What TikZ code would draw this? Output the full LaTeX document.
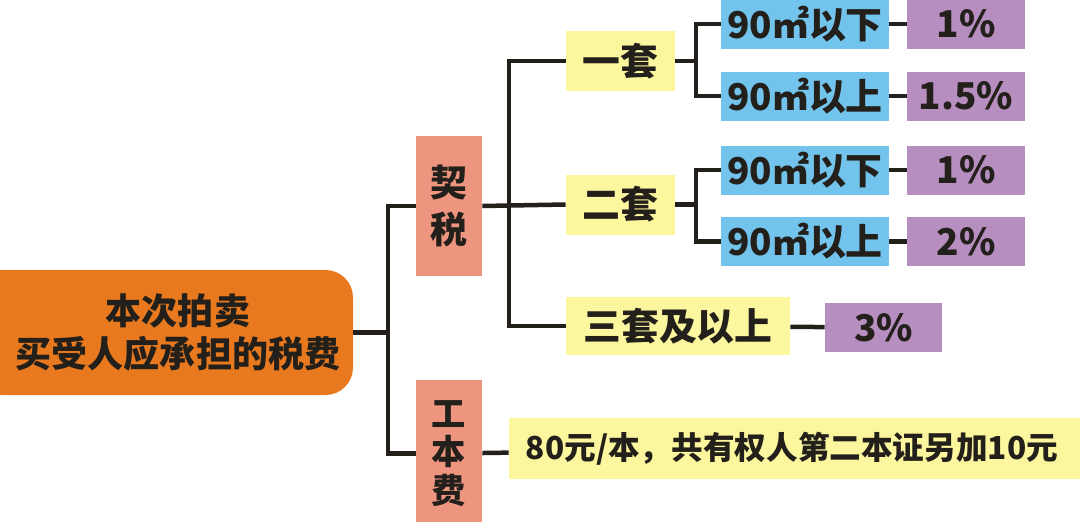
\documentclass[tikz,border=0pt]{standalone}
\usepackage{fontspec}
\setmainfont{Noto Sans CJK SC}
\usetikzlibrary{calc}

\definecolor{rootorange}{HTML}{E8791E}
\definecolor{salmon}{HTML}{EE9580}
\definecolor{paleyellow}{HTML}{FCF79E}
\definecolor{skyblue}{HTML}{72C4EC}
\definecolor{lilac}{HTML}{B68EC0}
\definecolor{ink}{HTML}{231F1A}

\begin{document}
\begin{tikzpicture}[
    font=\bfseries,
    root/.style={
        fill=rootorange, rounded corners=0.55cm, minimum width=7.56cm, minimum height=2.5cm,
        align=center, text=ink, font=\fontsize{20.5}{24.5}\selectfont\bfseries
    },
    taxbox/.style={
        fill=salmon, minimum width=1.32cm, align=center, text=ink
    },
    setbox/.style={
        fill=paleyellow, minimum height=1.2cm, text=ink, font=\fontsize{21.5}{25}\selectfont\bfseries
    },
    areabox/.style={
        fill=skyblue, minimum width=3.32cm, minimum height=0.98cm, text=ink,
        font=\fontsize{21}{24}\selectfont\bfseries
    },
    ratebox/.style={
        fill=lilac, minimum width=2.36cm, minimum height=0.98cm, text=ink,
        font=\fontsize{21}{24}\selectfont\bfseries
    },
    link/.style={
        draw=ink, line width=0.09cm
    }
]

    % Canvas
    \useasboundingbox (0,0) rectangle (21.6,-10.42);
    \clip (0,0) rectangle (21.6,-10.42);

    % Root
    \node[root] (root) at (3.28,-6.65) {\hspace*{0.56cm}本次拍卖\\\hspace*{0.56cm}买受人应承担的税费};

    % Second level
    \node[taxbox, minimum height=2.8cm, font=\fontsize{21}{27}\selectfont\bfseries] (qishui) at (8.98,-4.12) {契\\税};
    \node[taxbox, minimum height=2.94cm, font=\fontsize{19.5}{22}\selectfont\bfseries] (gongben) at (8.98,-9.07) {工\\本\\费};

    % Contract tax branches
    \node[setbox, minimum width=2.18cm] (yitao) at (12.41,-1.22) {一套};
    \node[setbox, minimum width=2.18cm] (ertao) at (12.41,-4.09) {二套};
    \node[setbox, minimum width=4.48cm, minimum height=1.16cm] (santao) at (13.56,-6.52) {三套及以上};

    % Area classes
    \node[areabox] (area1) at (16.10,-0.48) {90㎡以下};
    \node[areabox] (area2) at (16.10,-1.92) {90㎡以上};
    \node[areabox] (area3) at (16.10,-3.40) {90㎡以下};
    \node[areabox] (area4) at (16.10,-4.83) {90㎡以上};

    % Rates
    \node[ratebox] (rate1) at (19.32,-0.48) {1\%};
    \node[ratebox] (rate2) at (19.32,-1.92) {1.5\%};
    \node[ratebox] (rate3) at (19.32,-3.40) {1\%};
    \node[ratebox] (rate4) at (19.32,-4.83) {2\%};
    \node[ratebox, minimum width=2.34cm] (rate5) at (17.67,-6.55) {3\%};

    % Book fee
    \node[setbox, minimum width=11.52cm, minimum height=1.22cm, font=\fontsize{18}{22}\selectfont\bfseries] (fee) at (15.94,-8.97) {\hspace*{-0.2cm}80元/本，共有权人第二本证另加10元\hfill};

    % Trunk positions
    \coordinate (t0) at (7.76,0);
    \coordinate (t1) at (10.18,0);
    \coordinate (t2) at (13.92,0);

    % Connections
    \draw[link] (root.east) -- (root.east -| t0);
    \draw[link] (qishui.west) -- (qishui.west -| t0) |- (gongben.west);
    \draw[link] (qishui.east) -- (ertao.west);
    \draw[link] (yitao.west) -- (yitao.west -| t1) |- (santao.west);
    \draw[link] (yitao.east) -- (yitao.east -| t2);
    \draw[link] (area1.west) -- (area1.west -| t2) |- (area2.west);
    \draw[link] (ertao.east) -- (ertao.east -| t2);
    \draw[link] (area3.west) -- (area3.west -| t2) |- (area4.west);
    \draw[link] (area1) -- (rate1);
    \draw[link] (area2) -- (rate2);
    \draw[link] (area3) -- (rate3);
    \draw[link] (area4) -- (rate4);
    \draw[link] (santao) -- (rate5);
    \draw[link] (gongben) -- (fee);

\end{tikzpicture}
\end{document}
